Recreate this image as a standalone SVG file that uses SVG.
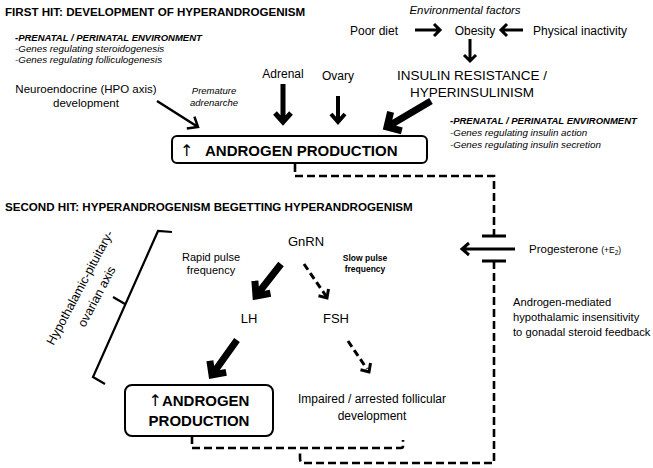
<svg xmlns="http://www.w3.org/2000/svg" width="653" height="468" viewBox="0 0 653 468">
<style>
text{font-family:"Liberation Sans",Arial,Helvetica,sans-serif;fill:#000}
.b{font-weight:bold}
.i{font-style:italic}
.m{text-anchor:middle}
.up{font-family:"DejaVu Sans",sans-serif;font-weight:normal}
.ln{stroke:#000;fill:none;stroke-linejoin:miter;stroke-miterlimit:10}
.dash{stroke:#000;fill:none;stroke-width:2.6;stroke-dasharray:8 4}
.box{fill:#fff;stroke:#000;stroke-width:2}
</style>
<rect width="653" height="468" fill="#fff"/>

<g id="headings">
<text class="b" x="5" y="16" font-size="11.6">FIRST HIT:  DEVELOPMENT OF HYPERANDROGENISM</text>
<text class="b" x="5" y="211" font-size="11.6">SECOND HIT:  HYPERANDROGENISM BEGETTING HYPERANDROGENISM</text>
</g>

<g id="notes-left" font-size="9.8">
<text class="i b" x="15" y="41" font-size="9.5">-PRENATAL / PERINATAL ENVIRONMENT</text>
<text class="i" x="15" y="52">-Genes regulating steroidogenesis</text>
<text class="i" x="15" y="63">-Genes regulating folliculogenesis</text>
</g>

<g id="env-factors">
<text class="i m" x="465" y="14" font-size="11.5">Environmental factors</text>
</g>
<g id="poor-diet"><text class="m" x="374" y="35" font-size="12">Poor diet</text></g>
<g id="obesity"><text class="m" x="475" y="35" font-size="12">Obesity</text></g>
<g id="physical-inactivity"><text class="m" x="580" y="35" font-size="12">Physical inactivity</text></g>
<g id="insulin-resistance">
<text class="m" x="472" y="80" font-size="13.5">INSULIN RESISTANCE /</text>
<text class="m" x="472" y="97" font-size="13.5">HYPERINSULINISM</text>
</g>
<g id="neuroendocrine">
<text class="m" x="86" y="93" font-size="11.5">Neuroendocrine (HPO axis)</text>
<text class="m" x="86" y="107" font-size="11.5">development</text>
</g>
<g id="premature-adrenarche">
<text class="i m" x="214" y="94" font-size="9.5">Premature</text>
<text class="i m" x="214" y="106" font-size="9.5">adrenarche</text>
</g>
<g id="adrenal"><text class="m" x="283" y="78" font-size="12">Adrenal</text></g>
<g id="ovary"><text class="m" x="338" y="80" font-size="12">Ovary</text></g>

<g id="notes-right" font-size="9.8">
<text class="i b" x="450" y="124" font-size="9.5">-PRENATAL / PERINATAL ENVIRONMENT</text>
<text class="i" x="450" y="136">-Genes regulating insulin action</text>
<text class="i" x="450" y="148">-Genes regulating insulin secretion</text>
</g>

<g id="androgen-production-1">
<rect class="box" x="172" y="136" width="255" height="27" rx="5"/>
<text class="up" x="180" y="156" font-size="16">↑</text>
<text class="b" x="205" y="156" font-size="15">ANDROGEN PRODUCTION</text>
</g>

<g id="hpo-axis">
<path class="ln" stroke-width="2.2" d="M172,232 L158,231 L93,377 L105,384 M125,304 L113,297"/>
<text class="m" transform="translate(88,292) rotate(-62)" font-size="12.5"><tspan x="0" y="-5">Hypothalamic-pituitary-</tspan><tspan x="0" y="14">ovarian axis</tspan></text>
</g>

<g id="gnrn"><text class="m" x="306" y="246" font-size="13">GnRN</text></g>
<g id="rapid-pulse">
<text class="m" x="211" y="261" font-size="11">Rapid pulse</text>
<text class="m" x="211" y="274" font-size="11">frequency</text>
</g>
<g id="slow-pulse">
<text class="b m" x="365" y="261" font-size="8.5">Slow pulse</text>
<text class="b m" x="365" y="272" font-size="8.5">frequency</text>
</g>
<g id="lh"><text class="m" x="249" y="323" font-size="13">LH</text></g>
<g id="fsh"><text class="m" x="336" y="323" font-size="13">FSH</text></g>

<g id="androgen-production-2">
<rect class="box" x="125" y="385" width="148" height="51" rx="7"/>
<text class="b m" x="199" y="406" font-size="15"><tspan class="up" font-size="16">↑</tspan>ANDROGEN</text>
<text class="b m" x="199" y="426" font-size="15">PRODUCTION</text>
</g>
<g id="impaired-development">
<text class="m" x="372" y="403" font-size="12">Impaired / arrested follicular</text>
<text class="m" x="372" y="420" font-size="12">development</text>
</g>

<g id="progesterone">
<text x="529" y="253" font-size="11.5">Progesterone <tspan font-size="8.5">(+E</tspan><tspan font-size="6.5" dy="2">2</tspan><tspan font-size="8.5" dy="-2">)</tspan></text>
</g>
<g id="feedback-note" font-size="11.2">
<text x="513" y="306">Androgen-mediated</text>
<text x="513" y="321">hypothalamic insensitivity</text>
<text x="513" y="336">to gonadal steroid feedback</text>
</g>

<g id="connectors">
<path class="ln" stroke-width="3" d="M415,30 H440 M434,24 L440,30 L434,36"/>
<path class="ln" stroke-width="3" d="M523,30 H501 M507,24 L501,30 L507,36"/>
<path class="ln" stroke-width="3" d="M470,39 V61 M464,55 L470,61 L476,55"/>
<path class="ln" stroke-width="2.5" d="M157,101 L198,127 M186.8,128.5 L198,127 L194.4,116.7"/>
<path class="ln" stroke-width="5" d="M283,84 V122 M275,113 L283,122 L291,113"/>
<path class="ln" stroke-width="4" d="M338,96 V122 M331,114 L338,122 L345,114"/>
<path class="ln" stroke-width="7" d="M431,101 L387,127 M390.6,111.9 L387,127 L401.8,130.9"/>
<path class="dash" d="M295,164 V176 H494 V236"/>
<path class="ln" stroke-width="3" d="M482,236 H506 M482,261 H506"/>
<path class="ln" stroke-width="3" d="M515,249 H462 M469,243 L462,249 L469,255"/>
<path class="dash" d="M494,261 V463 H303 Q300,463 300,458 V451"/>
<path class="dash" d="M192,436 V448 H401 Q403,448 403,446 V440"/>
<path class="ln" stroke-width="7" d="M281,264 L256,296 M254.9,280.8 L256,296 L270.5,293.2"/>
<path class="ln" stroke-width="3" stroke-dasharray="7 4" d="M304,264 L326,296"/>
<path class="ln" stroke-width="3" d="M318.5,295.8 L327,298 L328.5,289"/>
<path class="ln" stroke-width="7" d="M237,340 L212,375 M209.9,360.8 L212,375 L226.2,372.4"/>
<path class="ln" stroke-width="3" stroke-dasharray="7 4" d="M348,341 L367,369"/>
<path class="ln" stroke-width="3" d="M360.5,369.8 L369,372 L370.5,363"/>
</g>
</svg>
